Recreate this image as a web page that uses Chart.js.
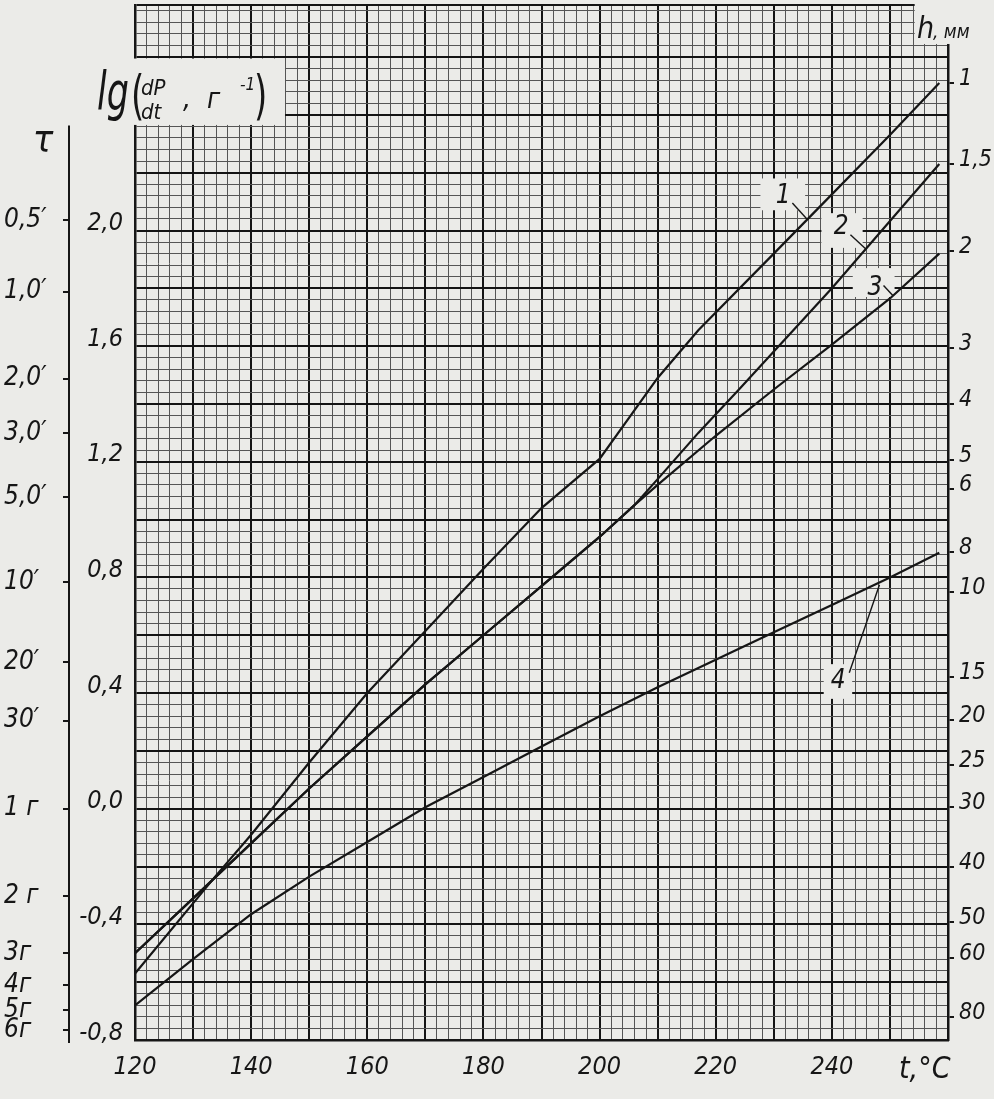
<!DOCTYPE html>
<html>
<head>
<meta charset="utf-8">
<script src="https://cdn.jsdelivr.net/npm/chart.js@4.4.1/dist/chart.umd.min.js"></script>
<style>
  html, body { margin: 0; padding: 0; background: #ebebe8; }
  #wrap { width: 994px; height: 1099px; position: relative; }
</style>
</head>
<body>
<div id="wrap"><canvas id="chart"></canvas></div>
<script>
const PAPER = "#ebebe8";
const INK = "#161616";
const MINOR = "#555555";
const FONT = "'Liberation Sans Narrow', 'DejaVu Sans Condensed', 'Liberation Sans', sans-serif";

// t, °C (bottom)
const xMin = 120, xMax = 260, xStep = 2;
const xLabels = [120, 140, 160, 180, 200, 220, 240];

// lg(dP/dt) (inner left)
const yMin = -0.8, yMax = 2.78, yStep = 0.04;
const yLabels = [-0.8, -0.4, 0, 0.4, 0.8, 1.2, 1.6, 2.0];

// h, мм (right) — positions in lg units
const hLabels = ["1", "1,5", "2", "3", "4", "5", "6", "8", "10", "15", "20", "25", "30", "40", "50", "60", "80"];
const hLg = [2.51, 2.23, 1.93, 1.595, 1.40, 1.205, 1.107, 0.887, 0.749, 0.455, 0.306, 0.15, 0.005, -0.202, -0.393, -0.517, -0.721];

// τ (outer left)
const tauLabels = ["0,5′", "1,0′", "2,0′", "3,0′", "5,0′", "10′", "20′", "30′", "1 г", "2 г", "3г", "4г", "5г", "6г"];
const tauLg = [2.037, 1.789, 1.488, 1.298, 1.077, 0.783, 0.506, 0.305, 0.0, -0.303, -0.50, -0.61, -0.697, -0.767];

// curves
const curve1T = [120, 133.8, 140, 150, 160, 170, 180, 190, 200, 210, 217, 230, 240, 250, 258.5];
const curve1Lg = [-0.57, -0.235, -0.09, 0.16, 0.40, 0.615, 0.83, 1.04, 1.21, 1.49, 1.655, 1.92, 2.125, 2.33, 2.51];

const curve2T = [120, 130, 140, 150, 160, 170, 180, 190, 200, 206, 210, 217, 224, 240, 258.5];
const curve2Lg = [-0.50, -0.31, -0.12, 0.07, 0.25, 0.43, 0.60, 0.77, 0.94, 1.05, 1.14, 1.30, 1.45, 1.80, 2.23];

const curve3T = [120, 130, 140, 150, 160, 170, 180, 190, 200, 206, 210, 220, 230, 240, 250, 258.5];
const curve3Lg = [-0.50, -0.31, -0.12, 0.07, 0.25, 0.43, 0.60, 0.77, 0.94, 1.05, 1.12, 1.29, 1.45, 1.605, 1.765, 1.92];

const curve4T = [120, 130, 140, 150, 160, 170, 180, 190, 200, 210, 220, 230, 240, 250, 258.5];
const curve4Lg = [-0.68, -0.52, -0.365, -0.235, -0.115, 0.005, 0.11, 0.215, 0.32, 0.42, 0.515, 0.61, 0.705, 0.80, 0.885];

const pts = (ts, ls) => ts.map((t, i) => ({ x: t, y: ls[i] }));
const near = (a, b) => Math.abs(a - b) < 1e-6;
const comma = (v) => v.toFixed(1).replace(".", ",");
const font = (size) => ({ family: FONT, size, style: "italic" });

function curve(ts, ls) {
  return {
    data: pts(ts, ls),
    borderColor: INK,
    borderWidth: 2.2,
    pointRadius: 0,
    tension: 0,
    fill: false,
  };
}

// fixed box sizes, no extra room for edge labels
function fixWidth(w) {
  return (s) => { s.width = w; s.paddingTop = 0; s.paddingBottom = 0; };
}

const paperPlugin = {
  id: "paper",
  beforeDatasetsDraw(chart) {
    const { ctx, chartArea: a, scales: { x, y } } = chart;
    const px = (v) => x.getPixelForValue(v);
    const py = (v) => y.getPixelForValue(v);
    ctx.save();
    ctx.fillStyle = PAPER;
    // hole for the axis title
    ctx.fillRect(a.left - 4, py(2.60) + 1.5, px(146) - 1 - (a.left - 4), py(2.36) - py(2.60) - 3);
    // cut corner top right
    ctx.fillRect(px(254) + 1.5, 0, a.right + 5 - px(254), py(2.64) - 1.5);
    // boxes behind curve numbers
    ctx.fillRect(px(227.7), py(2.18), px(235.4) - px(227.7), py(2.07) - py(2.18));
    ctx.fillRect(px(238.2), py(2.06), px(245.3) - px(238.2), py(1.94) - py(2.06));
    ctx.fillRect(px(243.6), py(1.87), px(250.8) - px(243.6), py(1.77) - py(1.87));
    ctx.fillRect(px(238.6), py(0.50), px(243.5) - px(238.6), py(0.38) - py(0.50));
    ctx.restore();
  },
  afterDraw(chart) {
    const { ctx, chartArea: a, scales: { x, y, yt } } = chart;
    const px = (v) => x.getPixelForValue(v);
    const py = (v) => y.getPixelForValue(v);
    ctx.save();
    ctx.fillStyle = INK;
    ctx.strokeStyle = INK;

    // τ axis line
    ctx.lineWidth = 2;
    ctx.beginPath();
    ctx.moveTo(yt.right - 1, py(2.363));
    ctx.lineTo(yt.right - 1, py(-0.81));
    ctx.stroke();

    const txt = (s, cx, cy, size, align = "center", base = "middle") => {
      ctx.font = `italic ${size}px ${FONT}`;
      ctx.textAlign = align;
      ctx.textBaseline = base;
      ctx.fillText(s, cx, cy);
    };
    const leader = (t1, l1, t2, l2) => {
      ctx.lineWidth = 1.4;
      ctx.beginPath();
      ctx.moveTo(px(t1), py(l1));
      ctx.lineTo(px(t2), py(l2));
      ctx.stroke();
    };

    // curve numbers
    txt("1", px(231.6), py(2.12), 26);
    leader(233.2, 2.095, 235.7, 2.04);
    txt("2", px(241.6), py(2.01), 26);
    leader(243.2, 1.985, 245.9, 1.935);
    txt("3", px(247.4), py(1.80), 26);
    leader(248.9, 1.81, 250.5, 1.775);
    txt("4", px(241.1), py(0.44), 26);
    leader(243.0, 0.47, 248.2, 0.775);

    // τ title
    txt("τ", yt.left + 39, py(2.31), 38);

    // lg(dP/dt, г⁻¹)
    const base = py(2.36);
    ctx.save();
    ctx.translate(a.left - 38, base - 16);
    ctx.scale(0.72, 1);
    ctx.font = `italic 54px ${FONT}`;
    ctx.textAlign = "left";
    ctx.textBaseline = "alphabetic";
    ctx.fillText("lg", 0, 0);
    ctx.restore();
    ctx.save();
    ctx.translate(a.left - 4, base - 12);
    ctx.scale(0.7, 1);
    ctx.font = `54px ${FONT}`;
    ctx.textBaseline = "alphabetic";
    ctx.textAlign = "left";
    ctx.fillText("(", 0, 0);
    ctx.restore();
    txt("dP", a.left + 6, base - 31, 22, "left", "alphabetic");
    txt("dt", a.left + 6, base - 7, 22, "left", "alphabetic");
    txt(",  г", a.left + 48, base - 18, 28, "left", "alphabetic");
    txt("-1", a.left + 105, base - 36, 17, "left", "alphabetic");
    ctx.save();
    ctx.translate(a.left + 119, base - 12);
    ctx.scale(0.7, 1);
    ctx.font = `54px ${FONT}`;
    ctx.textBaseline = "alphabetic";
    ctx.textAlign = "left";
    ctx.fillText(")", 0, 0);
    ctx.restore();

    // h, мм
    txt("h", a.right - 31, 38, 30, "left", "alphabetic");
    txt(", мм", a.right - 15, 38, 19, "left", "alphabetic");

    // t, °C
    txt("t,°C", px(256), a.bottom + 30, 30);

    ctx.restore();
  },
};

function xTicks(s) {
  const t = [];
  for (let v = xMin; v <= xMax + 1e-9; v += xStep) t.push({ value: v });
  s.ticks = t;
}

function yTicks(s) {
  const t = [];
  for (let i = 0; yMin + i * yStep <= yMax - yStep / 2; i++) {
    t.push({ value: Math.round((yMin + i * yStep) * 100) / 100 });
  }
  t.push({ value: yMax });
  s.ticks = t;
}

const boldX = (v) => Math.round(v) % 10 === 0;
const boldY = (v) => Math.round(v * 100) % 20 === 0 || near(v, yMax);

new Chart(document.getElementById("chart"), {
  type: "line",
  data: {
    datasets: [
      curve(curve1T, curve1Lg),
      curve(curve2T, curve2Lg),
      curve(curve3T, curve3Lg),
      curve(curve4T, curve4Lg),
    ],
  },
  options: {
    responsive: true,
    maintainAspectRatio: false,
    animation: false,
    events: [],
    layout: { padding: { left: 4, top: 5, right: 0, bottom: 0 } },
    plugins: { legend: { display: false }, tooltip: { enabled: false } },
    scales: {
      x: {
        type: "linear",
        min: xMin,
        max: xMax,
        afterBuildTicks: xTicks,
        afterFit: (s) => { s.height = 59; s.paddingLeft = 0; s.paddingRight = 0; },
        grid: {
          drawTicks: false,
          color: (c) => (c.tick && boldX(c.tick.value) ? "#141414" : MINOR),
          lineWidth: (c) => (c.tick && boldX(c.tick.value) ? 2 : 1),
        },
        border: { color: INK, width: 2.5 },
        ticks: {
          autoSkip: false,
          maxRotation: 0,
          minRotation: 0,
          padding: 12,
          color: INK,
          font: font(25),
          callback: (v) => (xLabels.some((l) => near(l, v)) ? String(v) : ""),
        },
      },
      y: {
        type: "linear",
        position: "left",
        weight: 0,
        min: yMin,
        max: yMax,
        afterBuildTicks: yTicks,
        afterFit: fixWidth(65),
        grid: {
          drawTicks: false,
          color: (c) => (c.tick && boldY(c.tick.value) ? "#141414" : MINOR),
          lineWidth: (c) => (c.tick && boldY(c.tick.value) ? 2 : 1),
        },
        border: { color: INK, width: 2.5 },
        ticks: {
          autoSkip: false,
          padding: 12,
          labelOffset: -7,
          color: INK,
          font: font(25),
          callback: (v) => (yLabels.some((l) => near(l, v)) ? comma(v) : ""),
        },
      },
      yt: {
        type: "linear",
        position: "left",
        weight: 1,
        min: yMin,
        max: yMax,
        afterBuildTicks: (s) => { s.ticks = tauLg.map((v) => ({ value: v })); },
        afterFit: fixWidth(66),
        grid: { drawOnChartArea: false, drawTicks: true, tickLength: 7, color: INK, lineWidth: 2 },
        border: { display: false },
        ticks: {
          autoSkip: false,
          crossAlign: "far",
          padding: 4,
          color: INK,
          font: font(26),
          callback: (v, i) => tauLabels[i],
        },
      },
      yh: {
        type: "linear",
        position: "right",
        min: yMin,
        max: yMax,
        afterBuildTicks: (s) => { s.ticks = hLg.map((v) => ({ value: v })); },
        afterFit: fixWidth(46),
        grid: { drawOnChartArea: false, drawTicks: true, tickLength: 6, color: INK, lineWidth: 2 },
        border: { color: INK, width: 2.5 },
        ticks: {
          autoSkip: false,
          padding: 5,
          labelOffset: -4,
          color: INK,
          font: font(23),
          callback: (v, i) => hLabels[i],
        },
      },
    },
  },
  plugins: [paperPlugin],
});
</script>
</body>
</html>
